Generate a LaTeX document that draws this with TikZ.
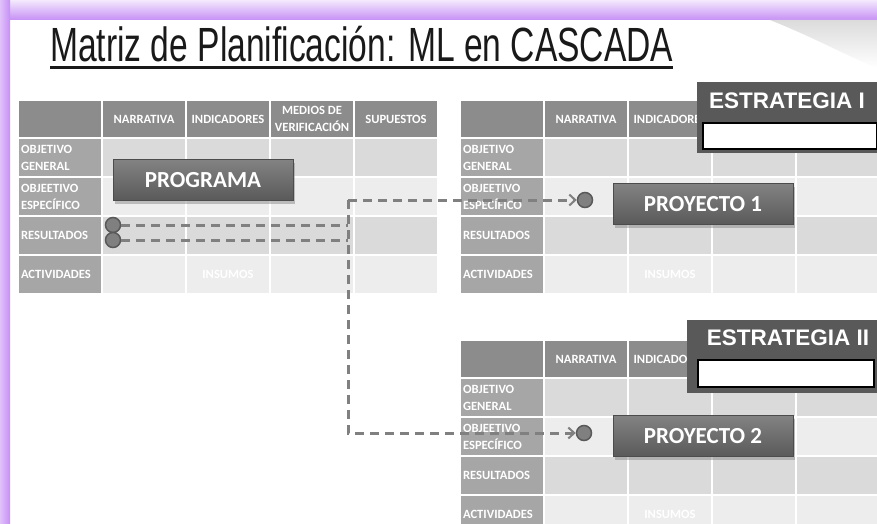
\documentclass[tikz,border=0pt]{standalone}
\usepackage{fontspec}
\setmainfont{Carlito}
\newfontfamily\titlefont[FakeStretch=0.70]{Liberation Sans}
\newfontfamily\estfont{Liberation Sans}
\usetikzlibrary{arrows.meta, shadows, positioning}

\definecolor{lila}{HTML}{C690F5}
\definecolor{hdrgray}{HTML}{8C8C8C}
\definecolor{lblgray}{HTML}{A6A6A6}
\definecolor{rowA}{HTML}{DADADA}
\definecolor{rowB}{HTML}{EDEDED}
\definecolor{conngray}{HTML}{808080}
\definecolor{boxtop}{HTML}{828282}
\definecolor{boxbot}{HTML}{5A5A5A}
\definecolor{estgray}{HTML}{595959}

\newcommand\tabfont{\bfseries\fontsize{12.6}{17}\selectfont}

\tikzset{
  hdrcell/.style={anchor=north west, minimum width=84pt, minimum height=38pt, inner sep=0pt, outer sep=0pt,
    fill=hdrgray, draw=white, line width=1.5pt, text=white, align=center, font=\tabfont},
  lblcell/.style={anchor=north west, minimum width=84pt, minimum height=39pt, text width=78pt, inner xsep=3pt,
    inner ysep=0pt, outer sep=0pt, fill=lblgray, draw=white, line width=1.5pt, text=white, align=left, font=\tabfont},
  bodycell/.style={anchor=north west, minimum width=84pt, minimum height=39pt, inner sep=0pt, outer sep=0pt,
    draw=white, line width=1.5pt},
  insumo/.style={text=white, font=\tabfont},
  caja/.style={minimum width=180pt, minimum height=41pt, inner sep=0pt, top color=boxtop, bottom color=boxbot,
    draw=black!70, line width=1pt, text=white, font=\bfseries\fontsize{23}{23}\selectfont,
    drop shadow={shadow xshift=2pt, shadow yshift=-3pt, opacity=0.45}},
  estbox/.style={anchor=north west, fill=estgray, inner sep=0pt},
  esttext/.style={text=white, font=\estfont\bfseries\fontsize{22.5}{22.5}\selectfont, inner sep=0pt},
  blanco/.style={anchor=north west, fill=white, draw=black, line width=2pt, inner sep=0pt},
  punto/.style={circle, minimum size=15pt, inner sep=0pt, fill=conngray, draw=black!65, line width=1.5pt},
  conn/.style={draw=conngray, line width=3pt, dash pattern=on 9pt off 6pt},
  flecha/.style={-{Straight Barb[length=6pt, width=11pt, line width=2pt]}}
}

\begin{document}
\begin{tikzpicture}[x=1pt, y=-1pt]
\useasboundingbox (0,0) rectangle (877,524);
\clip (0,0) rectangle (877,524);
% fondo y marco lila
\fill[white] (0,0) rectangle (877,524);
\shade[top color=lila!20, bottom color=lila] (0,0) rectangle (877,20);
\shade[left color=lila!55, right color=lila] (0,0) rectangle (10,524);
\shade[top color=black!14, bottom color=white] (770,20) .. controls (815,38) and (845,55) .. (877,68) -- (877,20) -- cycle;

% titulo
\node[anchor=base west, inner sep=0pt, text=black!90, font=\titlefont\fontsize{48}{48}\selectfont] (titulo) at (50,62)
  {Matriz de Planificación: ML en CASCADA};
\draw[line width=3pt, black!90] ([yshift=-6pt]titulo.base west) -- ([yshift=-6pt]titulo.base east);

% las tres matrices (en las de la derecha la cabecera queda bajo ESTRATEGIA)
\foreach \ox/\oy/\t/\last in {18/100/a/4, 460/100/b/2, 460/340/c/2}{
  \foreach \c/\head in {0/{}, 1/NARRATIVA, 2/INDICADORES, 3/{MEDIOS DE\\VERIFICACIÓN}, 4/SUPUESTOS}{
    \ifnum\c>\last
      \node[hdrcell] (\t-h\c) at ({\ox+\c*84}, \oy) {};
    \else
      \node[hdrcell] (\t-h\c) at ({\ox+\c*84}, \oy) {\head};
    \fi
  }
  \foreach \r/\lab/\tono in {1/{OBJETIVO\\GENERAL}/rowA, 2/{OBJEETIVO\\ESPECÍFICO}/rowB, 3/RESULTADOS/rowA, 4/ACTIVIDADES/rowB}{
    \node[lblcell] (\t-l\r) at (\ox, {\oy+38+(\r-1)*39}) {\lab};
    \foreach \c in {1,...,4}
      \node[bodycell, fill=\tono] (\t-\r-\c) at ({\ox+\c*84}, {\oy+38+(\r-1)*39}) {};
  }
  \node[insumo] (\t-ins) at (\t-4-2) {INSUMOS};
}

% cajas
\node[caja] (prog) at (203,180) {PROGRAMA};
\node[caja] (proy1) at (703,204) {PROYECTO 1};
\node[caja] (proy2) at (703,436) {PROYECTO 2};

\node[estbox, minimum width=200pt, minimum height=71pt] (est1) at (697,82) {};
\node[esttext] (est1t) at (787,101) {ESTRATEGIA I};
\node[blanco, minimum width=174pt, minimum height=26pt] (est1b) at (702,122) {};

\node[estbox, minimum width=200pt, minimum height=73pt] (est2) at (687,320) {};
\node[esttext] (est2t) at (788,338) {ESTRATEGIA II};
\node[blanco, minimum width=176pt, minimum height=27pt] (est2b) at (697,359) {};

% conexiones
\node[punto] (res1) at (113,225) {};
\node[punto] (res2) at (113,240) {};
\node[punto] (esp1) at (585,200) {};
\node[punto] (esp2) at (584,433) {};
\coordinate (split) at (348,200);
\coordinate (bend) at (348,433);
\draw[conn] (res1) -- (res1 -| split);
\draw[conn] (res2) -- (res2 -| split);
\draw[conn, flecha] (split) -- (esp1);
\draw[conn, flecha] (split) -- (bend) -- (esp2);
\end{tikzpicture}
\end{document}
